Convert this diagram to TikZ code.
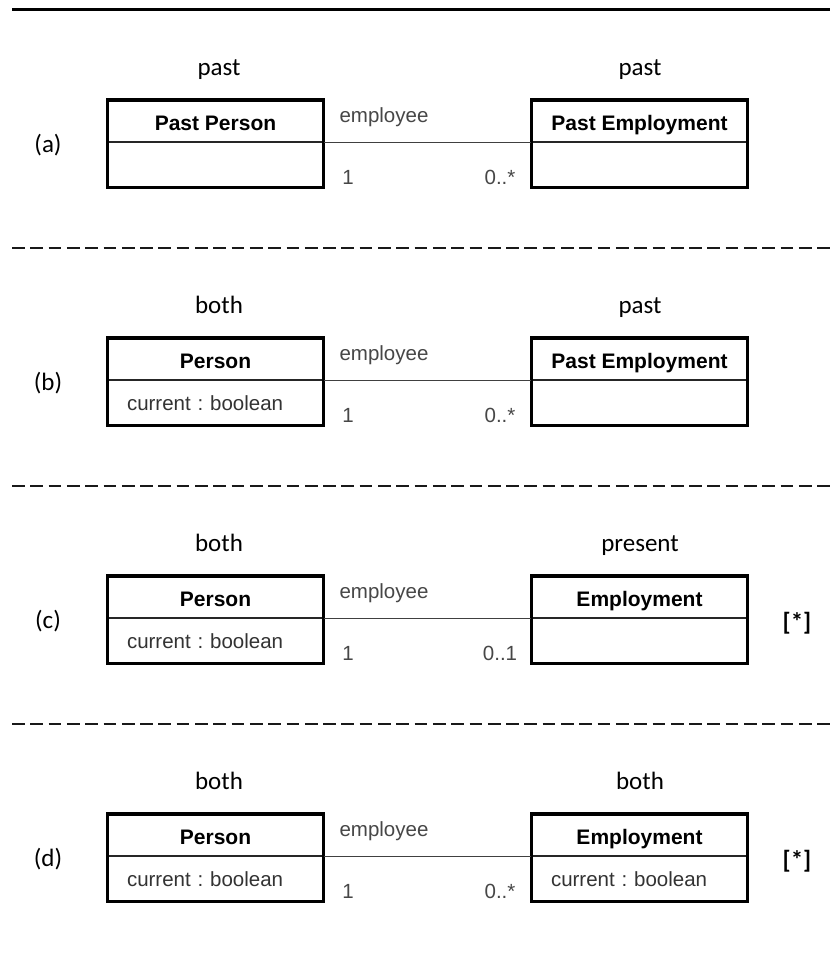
\documentclass[tikz,border=0pt]{standalone}
\usepackage{fontspec}
\setmainfont{Carlito}
\newfontfamily\arialf{Liberation Sans}
\frenchspacing
\newcommand\umlclass[5]{%
  \node[umltitle] (#1t) at (#2,#3) {#4};
  \node[umlattr] (#1a) at (#1t.south) {#5};
  \draw[umlouter] (#1t.north west) rectangle (#1a.south east);}
\begin{document}
\begin{tikzpicture}[x=1pt,y=-1pt,
  lbl/.style={font=\fontsize{25}{30}\selectfont, inner sep=0, anchor=base, text=black},
  star/.style={font=\bfseries\fontsize{25}{30}\selectfont, inner sep=0, anchor=base, text=black},
  umltitle/.style={draw=black!85, line width=1.2pt, minimum width=215pt, minimum height=41pt,
    inner sep=0, anchor=north, text height=20pt, text depth=1pt,
    font=\arialf\bfseries\fontsize{21}{25}\selectfont, text=black},
  umlattr/.style={draw=black!85, line width=1.2pt, text width=177pt, align=left, inner xsep=19pt,
    inner ysep=0, minimum height=44pt, anchor=north, text height=16pt, text depth=1pt,
    font=\arialf\fontsize{20.5}{24}\selectfont, text=black!80},
  umlouter/.style={draw=black, line width=3.2pt},
  assoc/.style={draw=black!75, line width=1.3pt},
  role/.style={font=\arialf\fontsize{20.5}{24}\selectfont, text=black!72, inner sep=0, anchor=base},
  sepline/.style={draw=black!90, line width=2pt, dash pattern=on 12.7pt off 5.6pt},
  topline/.style={draw=black, line width=3.5pt}]
\useasboundingbox (0,0) rectangle (830,967);
\fill[white] (0,0) rectangle (830,967);
\draw[topline] (12,9.5) -- (830,9.5);

% (a)
\node[lbl] (la) at (48,152) {(a)};
\node[lbl] (ta1) at (219,75) {past};
\node[lbl] (ta2) at (640,75) {past};
\umlclass{ap}{215.5}{100}{Past Person}{}
\umlclass{ae}{639.5}{100}{Past Employment}{}
\draw[assoc] (apt.south east) -- (aet.south west);
\node[role] (ar) at (384,122) {employee};
\node[role] (am1) at (348,184) {1};
\node[role] (am2) at (500,184) {0..*};

\draw[sepline] (12,248) -- (830,248);

% (b)
\node[lbl] (lb) at (48,390) {(b)};
\node[lbl] (tb1) at (219,313) {both};
\node[lbl] (tb2) at (640,313) {past};
\umlclass{bp}{215.5}{338}{Person}{current : boolean}
\umlclass{be}{639.5}{338}{Past Employment}{}
\draw[assoc] (bpt.south east) -- (bet.south west);
\node[role] (br) at (384,360) {employee};
\node[role] (bm1) at (348,422) {1};
\node[role] (bm2) at (500,422) {0..*};

\draw[sepline] (12,486) -- (830,486);

% (c)
\node[lbl] (lc) at (48,628) {(c)};
\node[lbl] (tc1) at (219,551) {both};
\node[lbl] (tc2) at (640,551) {present};
\umlclass{cp}{215.5}{576}{Person}{current : boolean}
\umlclass{ce}{639.5}{576}{Employment}{}
\draw[assoc] (cpt.south east) -- (cet.south west);
\node[role] (cr) at (384,598) {employee};
\node[role] (cm1) at (348,660) {1};
\node[role] (cm2) at (500,660) {0..1};
\node[star] (cs) at (797,630) {[*]};

\draw[sepline] (12,724) -- (830,724);

% (d)
\node[lbl] (ld) at (48,866) {(d)};
\node[lbl] (td1) at (219,789) {both};
\node[lbl] (td2) at (640,789) {both};
\umlclass{dp}{215.5}{814}{Person}{current : boolean}
\umlclass{de}{639.5}{814}{Employment}{current : boolean}
\draw[assoc] (dpt.south east) -- (det.south west);
\node[role] (dr) at (384,836) {employee};
\node[role] (dm1) at (348,898) {1};
\node[role] (dm2) at (500,898) {0..*};
\node[star] (ds) at (797,868) {[*]};
\end{tikzpicture}
\end{document}
